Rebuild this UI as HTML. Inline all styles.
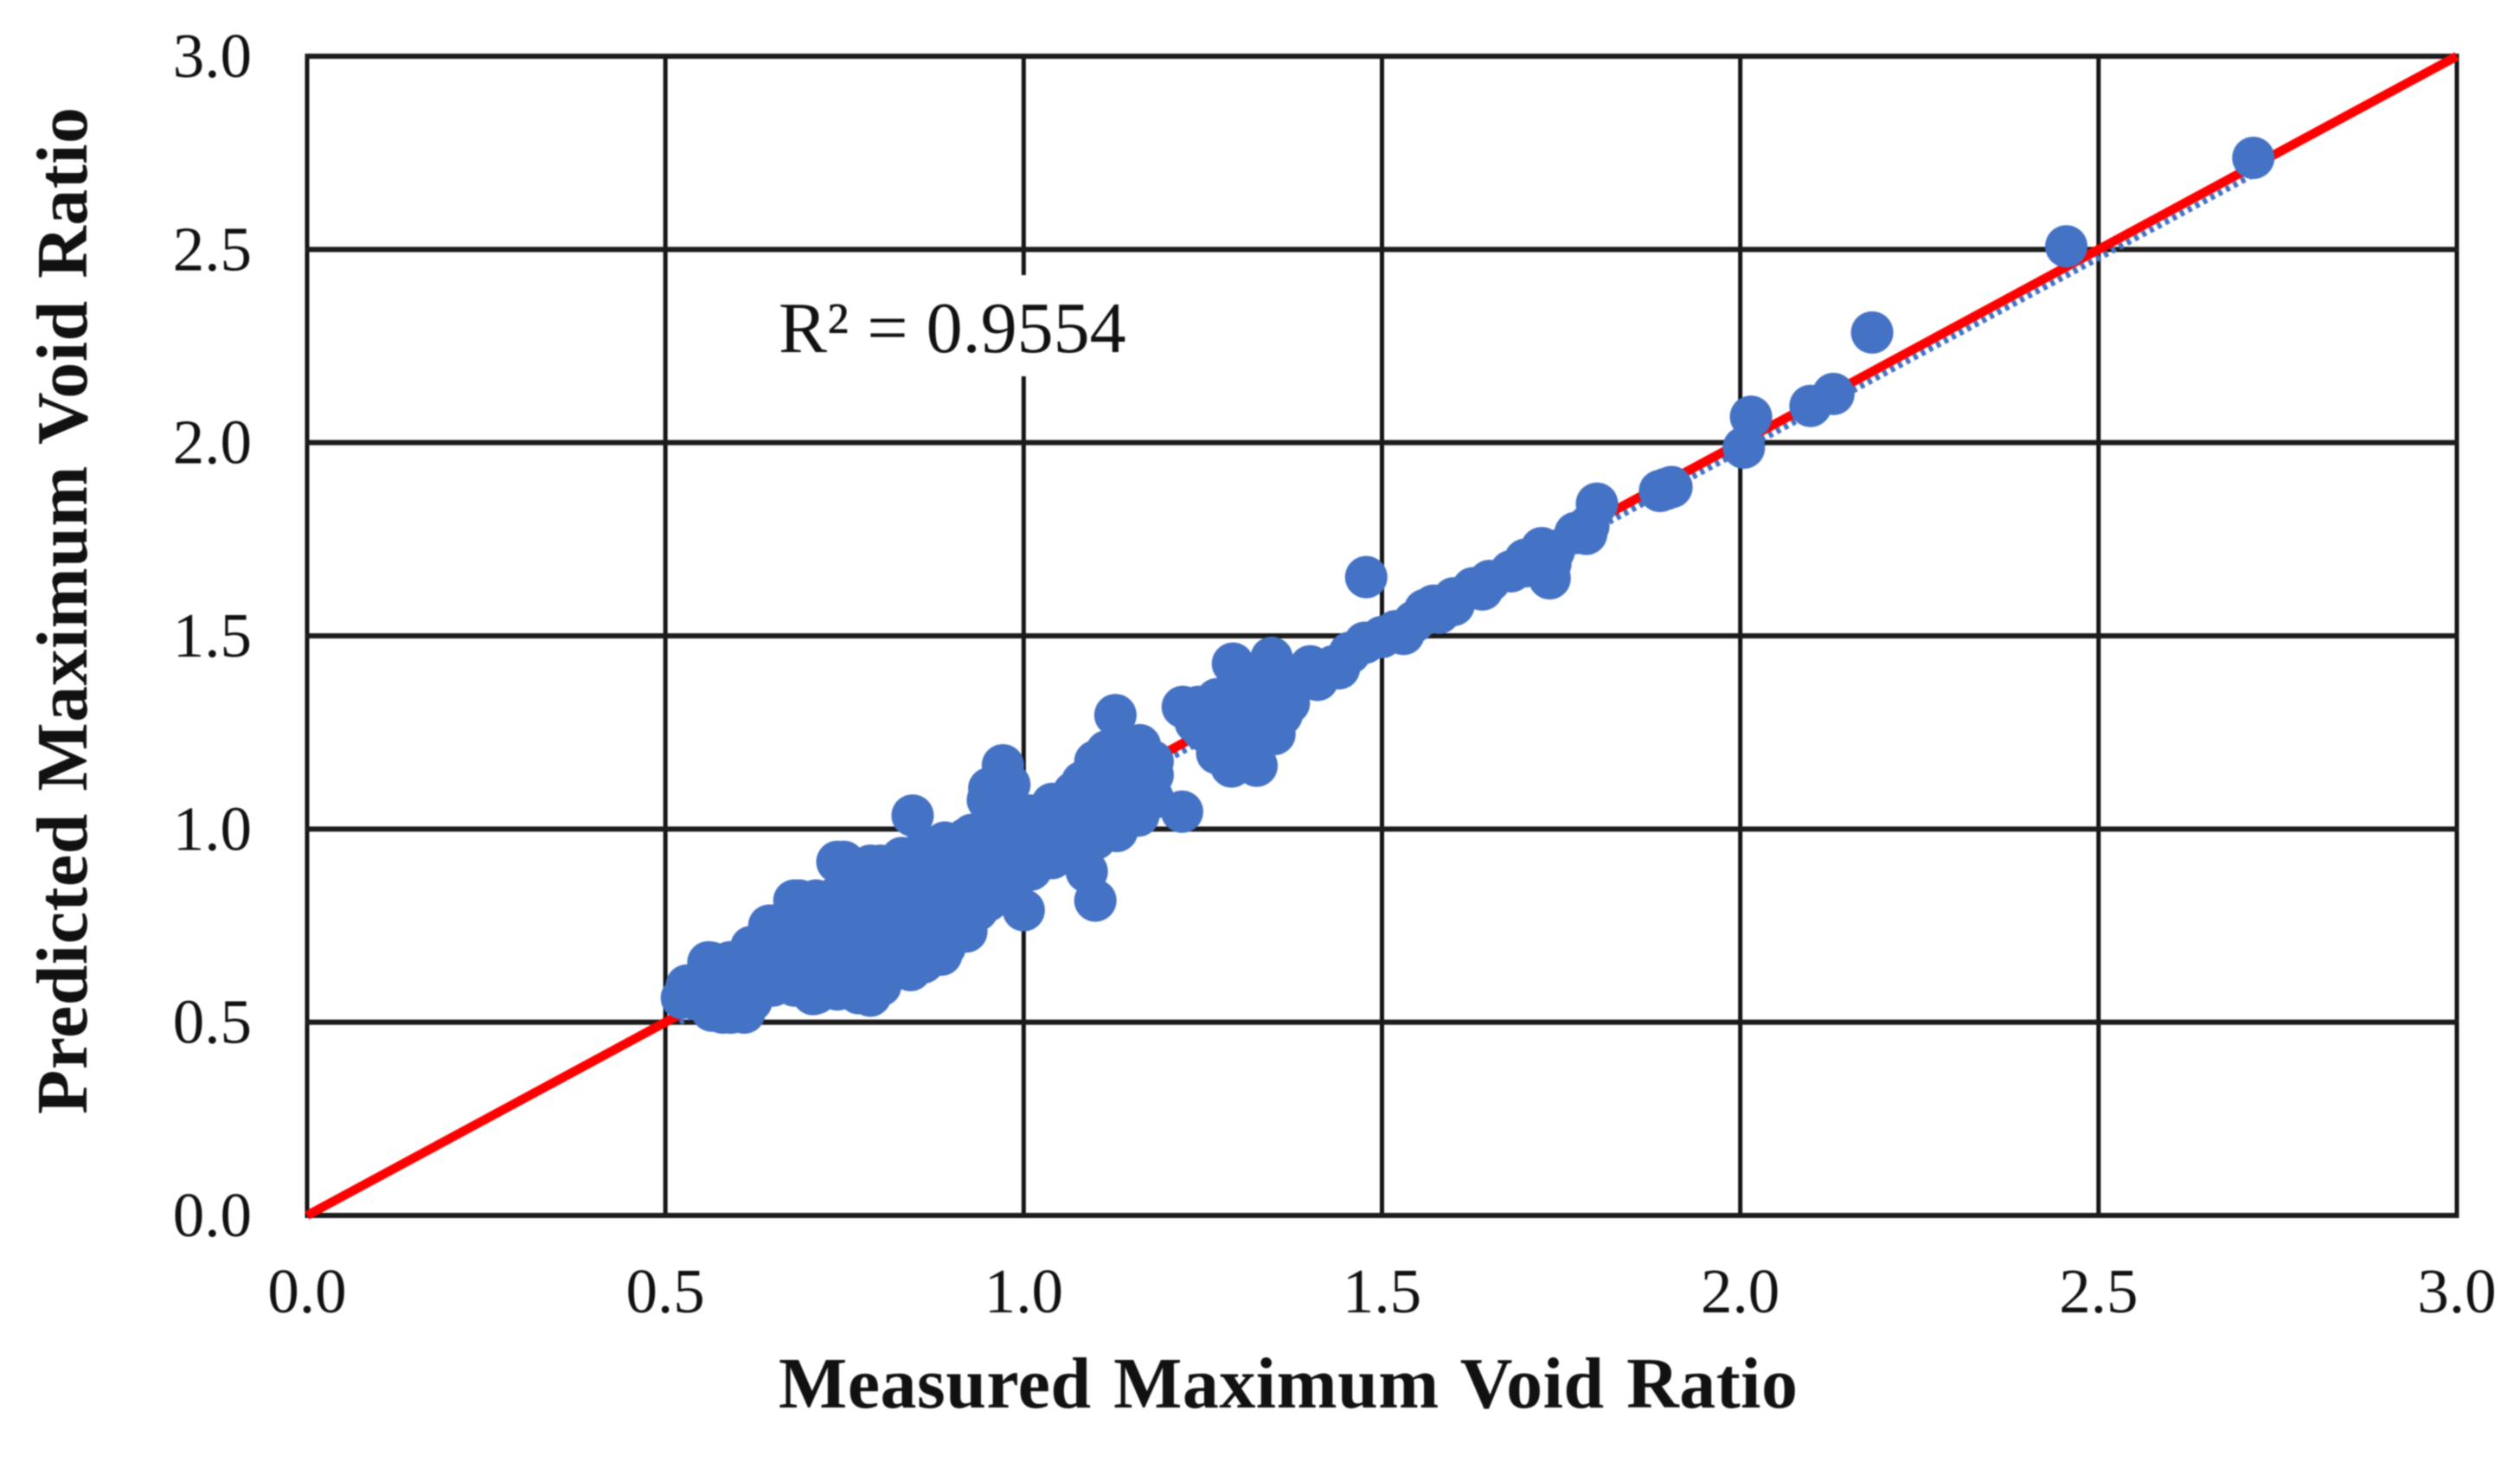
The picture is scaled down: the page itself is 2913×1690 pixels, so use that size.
<!DOCTYPE html>
<html lang="en">
<head>
<meta charset="utf-8">
<title>Predicted vs Measured Maximum Void Ratio</title>
<style>
html,body{margin:0;padding:0;background:#fff;width:2913px;height:1690px;overflow:hidden}
svg{display:block;filter:blur(0.8px)}
text{font-family:"Liberation Serif",serif;fill:#111}
</style>
</head>
<body>
<svg id="chart" xmlns="http://www.w3.org/2000/svg" width="2913" height="1690" viewBox="0 0 2913 1690">
  <rect x="0" y="0" width="2913" height="1690" fill="#fff"/>
  <g id="grid"></g>
  <g id="xticks"></g>
  <g id="yticks"></g>
  <g id="series"></g>
  <text x="900" y="1627" font-size="84" font-weight="700" textLength="1178" lengthAdjust="spacing" word-spacing="4">Measured Maximum Void Ratio</text>
  <text transform="translate(100,1288) rotate(-90)" font-size="84" font-weight="700" textLength="1164" lengthAdjust="spacing" word-spacing="4">Predicted Maximum Void Ratio</text>
</svg>
<script>
const xTicks = ["0.0","0.5","1.0","1.5","2.0","2.5","3.0"];
const yTicks = ["0.0","0.5","1.0","1.5","2.0","2.5","3.0"];
const axisMax = 3;
const r2Label = "R² = 0.9554";
const identityX = [0, 3];
const identityY = [0, 3];
const trendX = [0.52, 2.72];
const trendY = [0.5, 2.697];
const measured = [
0.53,0.53,0.523,
0.56,0.56,0.56,0.564,0.565,0.58,0.61,
0.59,0.59,0.59,0.592,
0.62,0.62,0.62,
0.65,0.65,0.65,0.645,
0.68,0.68,0.68,0.68,0.687,
0.71,0.71,0.71,0.71,0.706,
0.74,0.74,0.74,0.74,0.74,0.749,
0.77,0.77,0.77,0.77,0.77,0.786,0.786,
0.80,0.80,0.80,0.80,0.80,
0.83,0.83,0.83,0.83,0.83,0.842,0.845,
0.86,0.86,0.86,0.86,0.86,
0.885,0.89,0.89,0.89,0.89,0.89,
0.92,0.92,0.92,0.92,0.928,0.935,
0.95,0.95,0.95,0.95,0.95,0.952,0.971,
0.98,0.98,0.98,0.98,1.0,
1.01,1.01,1.01,1.023,
1.04,1.04,1.04,
1.07,1.07,1.07,1.082,
1.10,1.10,1.10,1.10,1.088,1.10,
1.13,1.13,1.13,1.13,1.128,1.116,
1.16,1.16,1.16,1.162,1.18,1.18,1.18,1.221,
1.222,1.244,1.25,1.27,1.27,1.29,1.30,1.30,1.292,1.30,1.325,1.33,1.33,1.33,1.346,1.36,1.362,1.357,1.38,1.40,1.40,1.432,1.455,
1.25,1.27,1.29,1.31,1.35,1.37,1.34,1.28,1.24,1.41,1.44,
1.478,1.476,1.50,1.519,1.545,1.56,1.572,1.60,1.627,1.65,1.68,1.70,1.723,1.734,1.735,1.77,1.785,1.788,1.80,
1.53,1.58,1.60,1.64,1.70,1.74,
1.888,1.896,1.904,2.005,2.015,2.098,2.13,2.184,2.455,2.716
];
const predicted = [
0.565,0.595,0.563,
0.545,0.615,0.655,0.654,0.53,0.525,0.525,
0.525,0.595,0.655,0.525,
0.555,0.625,0.695,
0.595,0.675,0.75,0.75,
0.595,0.675,0.755,0.815,0.815,
0.575,0.655,0.735,0.815,0.573,
0.585,0.665,0.745,0.825,0.915,0.915,
0.575,0.655,0.735,0.815,0.895,0.569,0.905,
0.595,0.675,0.755,0.835,0.905,
0.645,0.725,0.805,0.885,0.925,0.635,1.035,
0.655,0.735,0.815,0.895,0.945,
0.675,0.755,0.835,0.915,0.965,0.695,
0.735,0.815,0.895,0.975,0.985,0.79,
0.815,0.895,0.975,0.995,1.075,1.105,1.165,
0.855,0.935,1.015,1.115,0.79,
0.895,0.975,1.035,0.925,
0.925,0.995,1.065,
0.955,1.025,1.095,1.122,
0.975,1.045,1.115,1.175,0.89,0.815,
0.995,1.065,1.135,1.195,1.295,1.201,
1.035,1.105,1.175,1.217,1.175,1.14,1.08,1.045,
1.316,1.316,1.256,1.196,1.266,1.162,1.236,1.316,1.428,1.376,1.164,1.236,1.316,1.386,1.443,1.296,1.356,1.309,1.376,1.396,1.421,1.421,1.456,
1.296,1.336,1.276,1.196,1.246,1.326,1.396,1.246,1.276,1.386,1.416,
1.652,1.482,1.497,1.512,1.537,1.567,1.578,1.597,1.623,1.642,1.667,1.697,1.727,1.649,1.687,1.766,1.764,1.784,1.842,
1.505,1.56,1.58,1.62,1.68,1.72,
1.875,1.88,1.885,1.987,2.067,2.095,2.126,2.285,2.508,2.737
];

const NS = "http://www.w3.org/2000/svg";
const plotLeft = 355, plotRight = 2840, plotTop = 65, plotBottom = 1405;
function xScale(v){ return plotLeft + (v / axisMax) * (plotRight - plotLeft); }
function yScale(v){ return plotBottom - (v / axisMax) * (plotBottom - plotTop); }

const grid = document.getElementById("grid");
const xLabels = document.getElementById("xticks");
const yLabels = document.getElementById("yticks");
const series = document.getElementById("series");

xTicks.forEach(function(t){
  const x = xScale(parseFloat(t));
  const line = document.createElementNS(NS, "line");
  
  
  line.setAttribute("x1", x);
  line.setAttribute("x2", x);
  line.setAttribute("y1", plotTop);
  line.setAttribute("y2", plotBottom);
  line.setAttribute("stroke", "#141414");
  line.setAttribute("stroke-width", "5");
  grid.appendChild(line);
  const label = document.createElementNS(NS, "text");
  
  
  label.setAttribute("x", x);
  label.setAttribute("y", 1517);
  label.setAttribute("font-size", "73");
  label.setAttribute("text-anchor", "middle");
  label.textContent = t;
  xLabels.appendChild(label);
});

yTicks.forEach(function(t){
  const y = yScale(parseFloat(t));
  const line = document.createElementNS(NS, "line");
  
  
  line.setAttribute("x1", plotLeft - 2.5);
  line.setAttribute("x2", plotRight + 2.5);
  line.setAttribute("y1", y);
  line.setAttribute("y2", y);
  line.setAttribute("stroke", "#1c1c1c");
  line.setAttribute("stroke-width", "6");
  grid.appendChild(line);
  const label = document.createElementNS(NS, "text");
  
  
  label.setAttribute("x", 291);
  label.setAttribute("y", y + 24);
  label.setAttribute("font-size", "73");
  label.setAttribute("text-anchor", "end");
  label.textContent = t;
  yLabels.appendChild(label);
});

const trend = document.createElementNS(NS, "line");


trend.setAttribute("x1", xScale(trendX[0]));
trend.setAttribute("y1", yScale(trendY[0]));
trend.setAttribute("x2", xScale(trendX[1]));
trend.setAttribute("y2", yScale(trendY[1]));
trend.setAttribute("stroke", "#4472C4");
trend.setAttribute("stroke-width", "7");
trend.setAttribute("stroke-dasharray", "5 5");
series.appendChild(trend);

const identity = document.createElementNS(NS, "line");


identity.setAttribute("x1", xScale(identityX[0]));
identity.setAttribute("y1", yScale(identityY[0]));
identity.setAttribute("x2", xScale(identityX[1]));
identity.setAttribute("y2", yScale(identityY[1]));
identity.setAttribute("stroke", "#FF0000");
identity.setAttribute("stroke-width", "10.5");
series.appendChild(identity);

measured.forEach(function(m, i){
  const c = document.createElementNS(NS, "circle");
  
  
  c.setAttribute("cx", xScale(m));
  c.setAttribute("cy", yScale(predicted[i]));
  c.setAttribute("r", "24.5");
  c.setAttribute("fill", "#4472C4");
  series.appendChild(c);
});

const svg = document.getElementById("chart");
const r2Box = document.createElementNS(NS, "rect");


r2Box.setAttribute("x", 890);
r2Box.setAttribute("y", 318);
r2Box.setAttribute("width", 425);
r2Box.setAttribute("height", 117);
r2Box.setAttribute("fill", "#fff");
svg.appendChild(r2Box);
const r2 = document.createElementNS(NS, "text");


r2.setAttribute("x", 900);
r2.setAttribute("y", 407);
r2.setAttribute("font-size", "84");
r2.textContent = r2Label;
svg.appendChild(r2);
</script>
</body>
</html>
